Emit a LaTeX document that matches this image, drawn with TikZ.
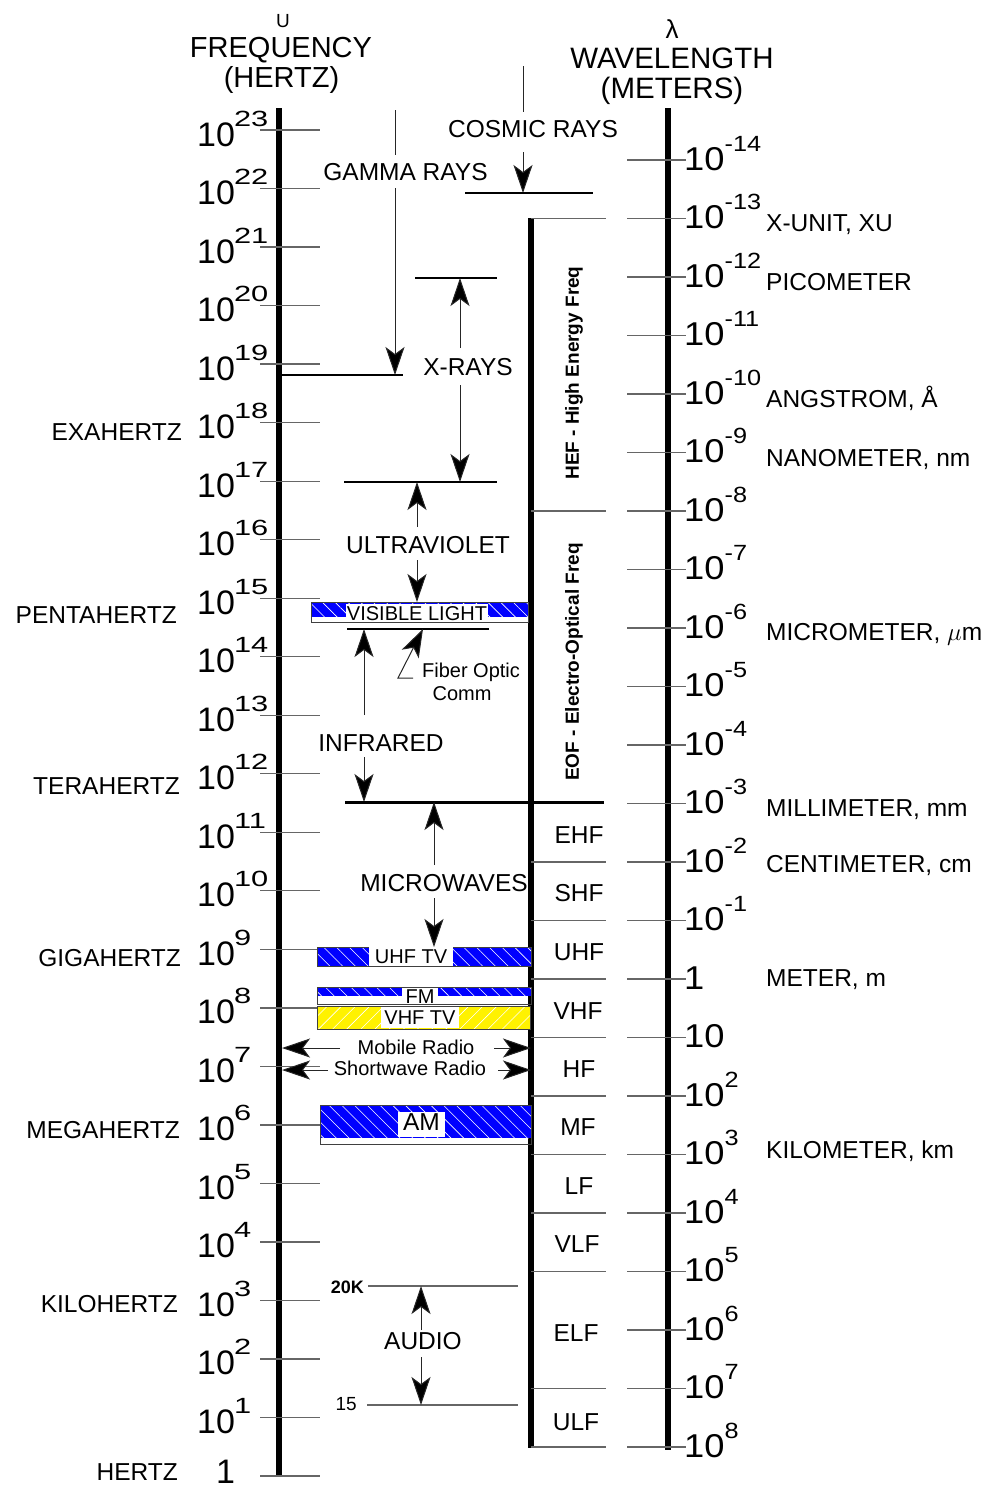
\documentclass[tikz,border=0pt]{standalone}
\usepackage{fontspec}
\setmainfont{Liberation Sans}
\newfontfamily\rnumfam[FakeStretch=1.1]{Liberation Sans}
\newfontfamily\lsupfam[FakeStretch=1.4]{Liberation Sans}
\newfontfamily\rsupfam[FakeStretch=1.15]{Liberation Sans}
\usetikzlibrary{arrows.meta,patterns.meta}
\definecolor{tickgray}{gray}{0.4}
\newcommand{\fsz}[1]{\fontsize{#1}{#1}\selectfont}
\newcommand{\lpow}[1]{{\fsz{34}10}\kern-1pt\raisebox{20pt}{\lsupfam\fsz{22}#1}}
\newcommand{\rpow}[1]{{\rnumfam\fsz{33}10}\raisebox{19pt}{\rsupfam\fsz{22}#1}}
\begin{document}
\begin{tikzpicture}[x=1pt,y=-1pt,
  lbl/.style={inner sep=0pt, font=\fsz{24.5}},
  sml/.style={inner sep=0pt, font=\fsz{20}},
  tickline/.style={draw=tickgray, line width=1.3pt},
  axisline/.style={line width=6pt},
  boundline/.style={line width=2.4pt},
  arr/.style={draw=black!85, line width=1pt, -{Stealth[length=28pt,width=19pt,inset=7pt,fill=black]}},
  shaft/.style={draw=black!85, line width=1pt},
  bluehatch/.style={fill=blue, postaction={pattern={Lines[angle=-45,distance=9pt,line width=0.6pt]}, pattern color=white}},
  yelhatch/.style={fill=yellow, postaction={pattern={Lines[angle=45,distance=10pt,line width=0.6pt]}, pattern color=white}},
  barframe/.style={draw=black!75, line width=1pt},
  tag/.style={anchor=base, fill=white, inner ysep=0pt, font=\fsz{20}},
]
\useasboundingbox (0,0) rectangle (988,1489);

% ---------- headings
\node[anchor=base, inner sep=0pt, font=\fsz{19}] (nu) at (283,27) {U};
\node[anchor=base, inner sep=0pt, font=\fsz{29}] (freq) at (281,57) {FREQUENCY};
\node[anchor=base, inner sep=0pt, font=\fsz{29}] (hz) at (281.5,87) {(HERTZ)};
\node[anchor=base, inner sep=0pt, font=\fsz{26}] (lam) at (672,38) {λ};
\node[anchor=base, inner sep=0pt, font=\fsz{29.5}] (wlen) at (672,68) {WAVELENGTH};
\node[anchor=base, inner sep=0pt, font=\fsz{29.5}] (mtr) at (672,98) {(METERS)};

% ---------- left frequency axis
\draw[axisline] (279,108) -- (279,1476);
\foreach \i in {0,...,23}{
  \draw[tickline] (260,{1476-58.52*\i}) -- (320,{1476-58.52*\i});
}
\foreach \i in {1,...,23}{
  \node[anchor=base west, inner sep=0pt] (f\i) at (197,{1476-58.52*\i+16}) {\lpow{\i}};
}
\node[anchor=base west, inner sep=0pt] (f0) at (216,1483) {\fsz{34}1};

\node[lbl, anchor=base east] (exa) at (182,440) {EXAHERTZ};
\node[lbl, anchor=base east] (penta) at (177,623) {PENTAHERTZ};
\node[lbl, anchor=base east] (tera) at (180,794) {TERAHERTZ};
\node[lbl, anchor=base east] (giga) at (181,966) {GIGAHERTZ};
\node[lbl, anchor=base east] (mega) at (180,1138) {MEGAHERTZ};
\node[lbl, anchor=base east] (kilo) at (178,1312) {KILOHERTZ};
\node[lbl, anchor=base east] (hertz) at (178,1480) {HERTZ};

% ---------- right wavelength axis
\draw[axisline] (668,108) -- (668,1450);
\foreach \i in {0,...,22}{
  \draw[tickline] (627,{160+58.5*\i}) -- (686,{160+58.5*\i});
}
\foreach \e in {-14,...,-1}{
  \node[anchor=base west, inner sep=0pt] (w\e) at (684,{160+58.5*(\e+14)+10}) {\rpow{\e}};
}
\foreach \e in {2,...,8}{
  \node[anchor=base west, inner sep=0pt] (w\e) at (684,{160+58.5*(\e+14)+10}) {\rpow{\e}};
}
\node[anchor=base west, inner sep=0pt] (w0) at (684,989) {\rnumfam\fsz{33}1};
\node[anchor=base west, inner sep=0pt] (w1) at (684,1047.5) {\rnumfam\fsz{33}10};

\node[lbl, anchor=base west] (xu) at (766,231) {X-UNIT, XU};
\node[lbl, anchor=base west] (pico) at (766,290) {PICOMETER};
\node[lbl, anchor=base west] (ang) at (766,407) {ANGSTROM, Å};
\node[lbl, anchor=base west] (nano) at (766,466) {NANOMETER, nm};
\node[lbl, anchor=base west] (micro) at (766,640) {MICROMETER, $\mu$m};
\node[lbl, anchor=base west] (milli) at (766,816) {MILLIMETER, mm};
\node[lbl, anchor=base west] (centi) at (766,872) {CENTIMETER, cm};
\node[lbl, anchor=base west] (meter) at (766,986) {METER, m};
\node[lbl, anchor=base west] (kilom) at (766,1158) {KILOMETER, km};

% ---------- middle band column
\draw[axisline, line width=5.5pt] (531,218) -- (531,1448);
\foreach \i in {1,6,12,13,14,15,16,17,18,19,21,22}{
  \draw[tickline] (531,{160+58.5*\i}) -- (606,{160+58.5*\i});
}
\node[rotate=90, inner sep=0pt, font=\bfseries\fsz{19}] (hef) at (574,373) {HEF - High Energy Freq};
\node[rotate=90, inner sep=0pt, font=\bfseries\fsz{19}] (eof) at (574,662) {EOF - Electro-Optical Freq};
\node[lbl, anchor=base] (ehf) at (579,843) {EHF};
\node[lbl, anchor=base] (shf) at (579,901) {SHF};
\node[lbl, anchor=base] (uhf) at (579,960) {UHF};
\node[lbl, anchor=base] (vhf) at (578,1019) {VHF};
\node[lbl, anchor=base] (hf) at (579,1077) {HF};
\node[lbl, anchor=base] (mf) at (578,1135) {MF};
\node[lbl, anchor=base] (lf) at (579,1194) {LF};
\node[lbl, anchor=base] (vlf) at (577,1252) {VLF};
\node[lbl, anchor=base] (elf) at (576,1341) {ELF};
\node[lbl, anchor=base] (ulf) at (576,1430) {ULF};

% ---------- cosmic rays
\node[lbl, anchor=base] (cosmic) at (533,137) {COSMIC RAYS};
\coordinate (cosTop) at (523,66);
\coordinate (cosTip) at (523,193);
\draw[shaft] (cosTop) -- (523,112);
\draw[arr] (523,152) -- (cosTip);
\draw[boundline] (465,193) -- (593,193);

% ---------- gamma rays
\node[lbl, anchor=base] (gamma) at (405.5,180) {GAMMA RAYS};
\coordinate (gamTop) at (395,110);
\coordinate (gamTip) at (395,375);
\draw[shaft] (gamTop) -- (395,155);
\draw[arr] (395,188) -- (gamTip);
\draw[boundline] (279,375) -- (403,375);

% ---------- x-rays
\node[lbl, anchor=base] (xray) at (468,375) {X-RAYS};
\coordinate (xTop) at (460,278);
\coordinate (xBot) at (460,482);
\draw[boundline] (415,278) -- (497,278);
\draw[arr] (460,348) -- (xTop);
\draw[arr] (460,385) -- (xBot);
\draw[boundline] (344,482) -- (497,482);

% ---------- ultraviolet
\node[lbl, anchor=base] (uv) at (428,553) {ULTRAVIOLET};
\coordinate (uvTop) at (417,482);
\coordinate (uvBot) at (417,602);
\draw[arr] (417,527) -- (uvTop);
\draw[arr] (417,560) -- (uvBot);

% ---------- visible light
\path[bluehatch] (311,602) rectangle (528,617);
\draw[barframe] (311,602) rectangle (528,622);
\node[tag, inner xsep=1pt, text height=16pt, text depth=2pt] (vis) at (417,620) {VISIBLE LIGHT};
\draw[boundline] (347,629) -- (489,629);

% ---------- fiber optic
\coordinate (fibTip) at (423,629);
\draw[arr] (413,678) -- (398,678) -- (fibTip);
\node[sml, anchor=base] (fiber) at (471,677) {Fiber Optic};
\node[sml, anchor=base] (comm) at (462,700) {Comm};

% ---------- infrared
\node[lbl, anchor=base] (ir) at (381,751) {INFRARED};
\coordinate (irTop) at (364,629);
\coordinate (irBot) at (364,802);
\draw[arr] (364,715) -- (irTop);
\draw[arr] (364,757) -- (irBot);
\draw[boundline] (345,802.5) -- (604,802.5);

% ---------- microwaves
\node[lbl, anchor=base] (mw) at (444,891) {MICROWAVES};
\coordinate (mwTop) at (434,802);
\coordinate (mwBot) at (434,947);
\draw[arr] (434,865) -- (mwTop);
\draw[arr] (434,898) -- (mwBot);

% ---------- UHF TV / FM / VHF TV
\path[bluehatch] (317,947) rectangle (531,966);
\draw[barframe] (317,947) rectangle (531,966);
\node[tag, inner xsep=6pt, text height=16pt, text depth=3pt] (uhftv) at (411,963) {UHF TV};

\path[bluehatch] (317,987) rectangle (531,996);
\draw[barframe] (317,987) rectangle (531,1004);
\node[tag, inner xsep=3.5pt, text height=15pt, text depth=1pt] (fm) at (420,1003) {FM};

\path[yelhatch] (317,1006) rectangle (530,1029);
\draw[barframe] (317,1006) rectangle (530,1029);
\node[tag, inner xsep=3.5pt, text height=17pt, text depth=4pt] (vhftv) at (420,1024) {VHF TV};

% ---------- mobile / shortwave radio
\node[sml, anchor=base] (mob) at (416,1054) {Mobile Radio};
\node[sml, anchor=base] (sw) at (410,1075) {Shortwave Radio};
\coordinate (mobL) at (282,1048);
\coordinate (mobR) at (531,1048);
\coordinate (swL) at (282,1070);
\coordinate (swR) at (531,1070);
\draw[arr] (340,1048) -- (mobL);
\draw[arr] (494,1048) -- (mobR);
\draw[arr] (328,1070) -- (swL);
\draw[arr] (498,1070) -- (swR);

% ---------- AM
\path[bluehatch] (320,1105) rectangle (531,1138);
\draw[barframe] (320,1105) rectangle (531,1144);
\node[tag, font=\fsz{24.5}, inner xsep=5pt, text height=18pt, text depth=7pt] (am) at (421.5,1130) {AM};

% ---------- audio
\node[anchor=base east, inner sep=0pt, font=\bfseries\fsz{18}] (k20) at (364,1293) {20K};
\node[anchor=base east, inner sep=0pt, font=\fsz{19}] (f15) at (357,1410) {15};
\draw[tickline] (368,1286) -- (518,1286);
\draw[tickline] (367,1405) -- (518,1405);
\node[lbl, anchor=base] (audio) at (423,1349) {AUDIO};
\coordinate (auTop) at (421,1286);
\coordinate (auBot) at (421,1405);
\draw[arr] (421,1330) -- (auTop);
\draw[arr] (421,1357) -- (auBot);
\end{tikzpicture}
\end{document}
